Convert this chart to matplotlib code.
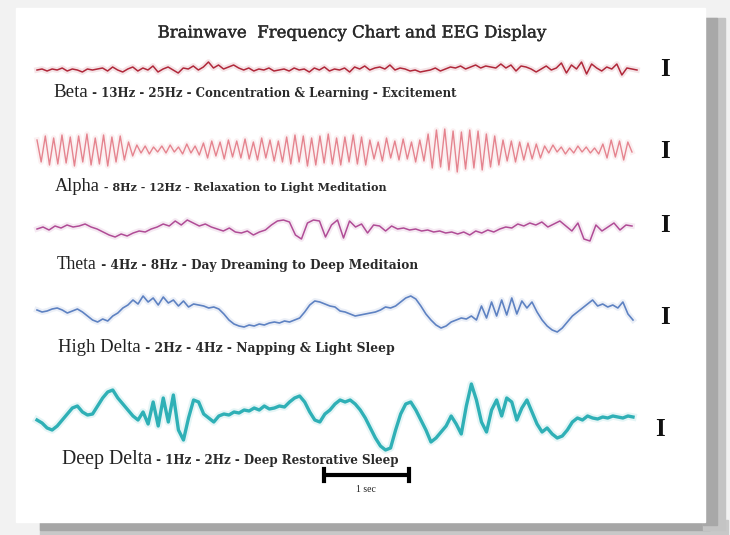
import matplotlib
matplotlib.use("Agg")
import matplotlib.pyplot as plt
import matplotlib.patheffects as pe
from matplotlib.patches import Rectangle
import numpy as np

beta = [0, 1, -1, 1, 0, 2, -1, 1, 0, -2, 1, 0, 1,
        2, -1, 3, 0, -2, 1, 3, -1, 2, 0, 4, -2, 1, 3, 0, -3, 2, 1, 4, 0,
        3, 8, 2, 5, 1, 3, 5, 2, 0, 2, -1, 1, 0, 2, -1, 0, 1, -1, 2, 0,
        1, -2, 2, 0, 3, -1, 1, 0, 2, -2, 3, 1, 4, 0, 2, 3, 1, 5, 0, 2,
        1, -1, 0, -2, -1, 0, 2, -1, 1, 3, 2, 4, 1, 3, 5, 2, 4, 3, 2, 6,
        2, 5, -1, 4, 3, 1, -2, 1, 4, 0, 2, 7, -3, 5, 1, 8, -4, 6, 2, -1, 3, 1, 6, -5, 2, 1, 0]

alpha = [10, -12, 14, -15, 12, -14, 15, -13, 13, -16, 14, -12, 16, -15, 12, -14, 15, -16, 13, -12, 14, -10,
         8, -6, 5, -3, 4, -4, 3, -2, 4, -3, 5, -2, 3, -4, 6, -3, 4, -5,
         7, -8, 9, -6, 8, -9, 10, -7, 9, -8, 11, -9, 8, -10, 12, -8, 10, -11, 9, -12,
         13, -14, 15, -12, 14, -16, 12, -15, 14, -13, 16, -14, 12, -15, 13, -12, 15, -14, 13, -15,
         10, -9, 8, -11, 12, -8, 9, -10, 11, -9, 8, -12, 10, -11,
         16, -18, 20, -17, 21, -20, 19, -22, 18, -19, 20, -18, 19, -20, 16, -17, 14, -15,
         10, -11, 9, -12, 8, -10, 7, -9, 6, -8,
         4, -3, 5, -2, 3, -4, 2, -3, 4, -2, 3, -3, 2, -4,
         6, -8, 10, -7, 9, -10, 8, -2]

theta = [0, 2, -1, 3, 1, 4, 2, 3, 5, 2,
         0, -3, -6, -8, -5, -7, -4, -2, -3, 0,
         2, 5, 3, 8, 4, 9, 6, 3, 5, 2,
         0, -2, 1, -3, -4, -2, -6, -3, -1, 4,
         8, 9, 7, -6, -10, 6, 9, 8, -8, 4,
         9, -9, 8, 2, 5, -4, 4, 3, -2, 3,
         0, 1, -1, 0, -2, -1, -3, -2, -4, -3,
         -5, -3, -6, -2, -4, -1, -3, 0, 2, 1,
         5, 3, 6, 4, 7, 2, 5, 8, 3, -2,
         6, -10, -12, 4, -2, 2, 6, -1, 4, 3]

high_delta = [0, -2, -1, 1, 2, 0, -3, -1, 1, -2, -6, -10,
              -12, -9, -11, -6, -3, 2, 5,
              10, 6, 14, 8, 12, 5, 13, 7, 10,
              4, 9, 3, 6, 5, 4, 2, 3, 1,
              -4, -10, -14, -16, -17, -15,
              -16, -14, -15, -13, -12, -13, -11, -12, -10, -8,
              -2, 5, 9, 8,
              6, 4, 3, -1, -2, -4, -6, -5, -4, -3, -2, 0,
              3, 2, 4, 8, 12, 14, 11,
              4, -4, -10, -15, -18, -16,
              -12, -10, -8, -9, -6,
              -10, 4, -8, 8, -6, 10, -5, 12, -4, 9, 2, 8,
              -2, -10, -16, -20, -22,
              -18, -12, -6, -2, 2, 6, 10,
              4, 6, 3, 5, 2, 8, -4, -10]

deep_delta = [0, -3, -8, -10,
              -6, 0, 6, 12, 14,
              8, 5, 6,
              14, 22, 28, 30,
              22, 16, 10, 4, 0, 8,
              -4, 18, -6, 22, -2, 25,
              -10, -20, 2, 20, 18,
              6, 2, -2, 4, 6,
              5, 8, 7, 10, 9, 12, 10, 14, 11, 12, 14, 13, 18, 22,
              24, 18, 8, 0, -2, 6,
              10, 16, 20, 18, 20, 16,
              10, 2, -8, -18, -26, -30, -28,
              -10, 6, 16, 18,
              10, 0, -10, -22, -18, -12,
              -6, 4, -4, -14, 14,
              36, 20, -2, -12,
              10, 20, 4, 22, 18, 0,
              12, 20, 8, -4, -12,
              -8, -14, -18, -16, -10,
              -2, 2, 0, 4, 2, 1, 3, 2, 4, 3, 2, 4, 3]

names = ["Beta", "Alpha", "Theta", "High Delta", "Deep Delta"]
details = [" - 13Hz - 25Hz - Concentration & Learning - Excitement",
           " - 8Hz - 12Hz - Relaxation to Light Meditation",
           " - 4Hz - 8Hz - Day Dreaming to Deep Meditaion",
           " - 2Hz - 4Hz - Napping & Light Sleep",
           " - 1Hz - 2Hz - Deep Restorative Sleep"]
title = "Brainwave  Frequency Chart and EEG Display"

traces = [beta, alpha, theta, high_delta, deep_delta]
colors = ["#b0283a", "#e5848f", "#b04c96", "#5e82c2", "#2fb0b6"]
widths = [1.1, 1.0, 1.1, 1.2, 2.4]
baselines = [70, 150, 229, 310, 420]
x_end = [637, 632, 632, 633, 633]
label_xy = [(53, 97), (55, 191), (57, 269), (58, 352), (62, 464)]
name_w = [35, 45, 40, 83, 90]            # pixel widths of the names in the picture
label_right = [458, 388, 420, 395, 400]  # right edge of each label line
mark_y = [70, 152, 226, 318, 430]
mark_x = [665, 665, 665, 665, 660]
SERIF = "DejaVu Serif"

fig = plt.figure(figsize=(7.3, 5.35), dpi=100)
fig.patch.set_facecolor("#f2f2f2")
ax = fig.add_axes([0, 0, 1, 1])
ax.set_xlim(0, 730)
ax.set_ylim(535, 0)
ax.axis("off")
renderer = fig.canvas.get_renderer()
heavy = [pe.withStroke(linewidth=0.3, foreground="#2a2a2a")]


def fit_width(t, w):
    # scale the font so the text spans w pixels
    ext = t.get_window_extent(renderer=renderer)
    t.set_fontsize(t.get_fontsize() * w / ext.width)


# shadow and card
ax.add_patch(Rectangle((40, 520), 688, 15, color="#c8c8c8", zorder=0))
ax.add_patch(Rectangle((40, 522), 670, 8, color="#a6a6a6", zorder=0))
ax.add_patch(Rectangle((703, 18), 22, 512, color="#c4c4c4", zorder=0))
ax.add_patch(Rectangle((703, 18), 14, 507, color="#a8a8a8", zorder=0))
ax.add_patch(Rectangle((16, 8), 689, 514, color="white", zorder=1))

tt = ax.text(352, 33, title, ha="center", va="center", fontsize=12,
             family=SERIF, color="#2a2a2a", zorder=3, path_effects=heavy)
fit_width(tt, 387)

for vals, col, lw, base, xe in zip(traces, colors, widths, baselines, x_end):
    xs = np.linspace(37, xe, len(vals))
    ys = base - np.array(vals)
    ax.plot(xs, ys, color=col, lw=lw + 3, alpha=0.12, solid_joinstyle="round", zorder=2)
    ax.plot(xs, ys, color=col, lw=lw, solid_joinstyle="round", zorder=3)

for (lx, ly), name, det, nw, rx in zip(label_xy, names, details, name_w, label_right):
    t = ax.text(lx, ly, name, ha="left", va="baseline", fontsize=10,
                family="Liberation Serif", color="#222222", zorder=3)
    fit_width(t, nw)
    d = ax.text(lx + nw, ly, det, ha="left", va="baseline", fontsize=8,
                family=SERIF, fontweight="bold", color="#2a2a2a", zorder=3)
    fit_width(d, rx - lx - nw)

for mx, my in zip(mark_x, mark_y):
    ax.text(mx, my, "I", ha="center", va="center", fontsize=18, fontweight="bold",
            family="Liberation Serif", color="#111111", zorder=3)

# 1 sec scale bar
ax.plot([324, 409], [475, 475], color="black", lw=3, solid_capstyle="butt", zorder=3)
ax.plot([324, 324], [469, 481], color="black", lw=3, zorder=3)
ax.plot([409, 409], [469, 481], color="black", lw=3, zorder=3)
ax.text(366, 489, "1 sec", ha="center", va="center", fontsize=7,
        family="Liberation Serif", color="#222222", zorder=3)

fig.savefig("out.png", dpi=100, facecolor=fig.get_facecolor())
